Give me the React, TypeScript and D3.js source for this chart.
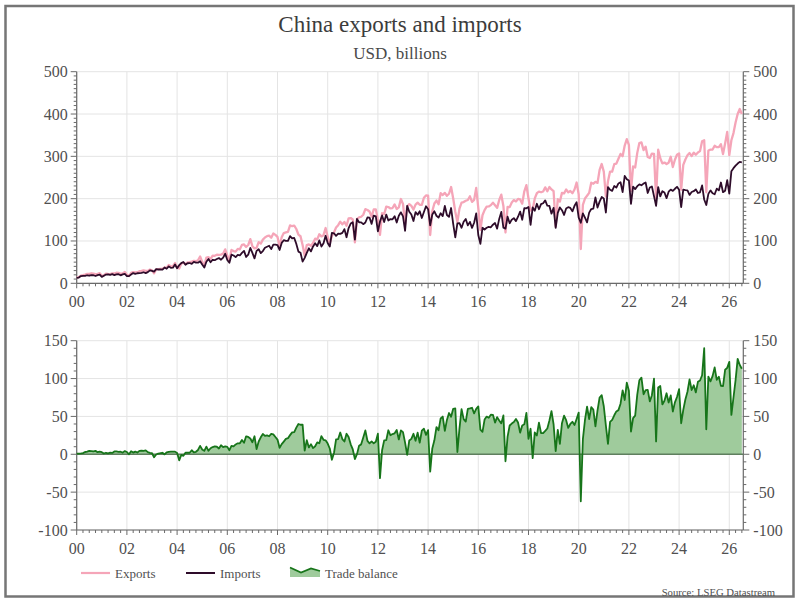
import React from "react";
import * as d3 from "d3";

const START_YEAR = 2000;

// Monthly values, USD billions, one row per year (Jan 2000 – Jul 2026)
const exportsMonthly: number[][] = [
  [13.7, 14.5, 18.3, 19.2, 20.5, 22.4, 22.4, 23.7, 22.8, 21.8, 22.1, 24.0],
  [17.9, 19.0, 22.7, 22.2, 21.9, 23.3, 23.2, 24.9, 24.8, 22.3, 23.2, 26.6],
  [20.2, 17.0, 24.6, 26.3, 25.6, 26.1, 28.6, 29.2, 30.7, 29.3, 29.2, 32.5],
  [30.8, 23.8, 33.1, 33.6, 34.3, 34.4, 37.1, 37.0, 43.3, 40.0, 40.5, 47.8],
  [37.2, 34.9, 46.7, 48.4, 45.8, 49.4, 49.9, 51.3, 53.1, 52.2, 54.5, 63.4],
  [50.8, 41.6, 60.9, 62.0, 57.9, 65.2, 65.0, 67.5, 67.2, 67.7, 70.1, 80.2],
  [64.9, 54.1, 78.8, 76.2, 74.8, 81.4, 80.3, 90.8, 91.9, 85.9, 90.5, 104.4],
  [87.7, 82.6, 83.5, 97.4, 93.7, 103.2, 108.2, 111.4, 112.5, 107.7, 117.6, 114.4],
  [109.6, 87.4, 108.9, 118.7, 120.5, 121.5, 136.7, 134.9, 136.4, 128.3, 114.9, 111.2],
  [90.5, 64.9, 90.3, 91.9, 88.8, 95.4, 105.4, 103.7, 115.9, 110.8, 113.7, 130.7],
  [109.5, 94.5, 112.1, 119.9, 131.8, 137.4, 145.5, 139.3, 144.9, 136.0, 153.3, 154.2],
  [150.7, 96.7, 152.2, 155.7, 157.2, 162.0, 175.1, 173.3, 169.7, 157.5, 174.5, 174.7],
  [149.9, 114.5, 165.7, 163.3, 181.1, 180.2, 176.9, 177.9, 186.4, 175.6, 179.4, 199.2],
  [187.4, 139.4, 182.2, 187.1, 182.8, 174.3, 186.0, 190.6, 185.6, 185.4, 202.2, 207.7],
  [207.1, 114.1, 170.1, 188.5, 195.5, 186.8, 212.9, 208.5, 213.7, 206.9, 211.6, 227.5],
  [200.3, 169.2, 144.6, 176.3, 190.8, 191.9, 195.1, 196.9, 205.6, 192.4, 197.2, 225.2],
  [177.5, 126.0, 160.8, 172.8, 181.0, 181.6, 184.7, 190.6, 184.5, 178.2, 196.8, 209.4],
  [182.8, 120.1, 180.6, 180.0, 191.0, 196.6, 193.5, 199.3, 198.1, 188.2, 217.4, 231.8],
  [200.5, 171.9, 174.1, 200.5, 212.9, 216.7, 215.1, 217.0, 226.7, 217.3, 227.4, 221.7],
  [217.6, 135.2, 198.7, 193.0, 213.8, 212.5, 221.7, 214.8, 218.1, 212.9, 221.7, 238.2],
  [210.0, 81.0, 185.1, 200.3, 206.8, 213.6, 237.6, 235.3, 239.8, 237.2, 268.1, 281.9],
  [263.9, 205.1, 241.1, 263.9, 263.9, 281.4, 282.7, 294.3, 305.7, 300.2, 325.5, 340.5],
  [327.0, 217.7, 276.1, 273.6, 308.2, 331.3, 332.9, 314.9, 322.8, 298.4, 296.1, 306.6],
  [306.0, 200.0, 315.6, 295.4, 283.5, 285.3, 281.8, 284.9, 299.1, 274.8, 291.9, 303.6],
  [307.0, 221.0, 279.7, 292.5, 302.4, 307.8, 300.6, 308.7, 303.7, 309.1, 312.3, 335.6],
  [338.0, 215.0, 313.9, 315.7, 316.1, 325.2, 321.8, 321.8, 328.6, 305.4, 330.3, 357.8],
  [303.0, 338.0, 355.0, 380.0, 400.0, 412.0, 400.0],
];

const importsMonthly: number[][] = [
  [12.9, 13.5, 17.1, 17.7, 17.5, 19.0, 17.9, 19.4, 19.0, 17.3, 19.3, 20.5],
  [15.2, 18.0, 20.7, 20.9, 19.8, 21.5, 19.4, 21.1, 21.5, 18.9, 21.0, 22.4],
  [17.2, 17.0, 20.6, 24.1, 22.1, 23.8, 24.1, 24.5, 26.1, 24.2, 26.4, 30.5],
  [29.4, 27.7, 33.4, 32.6, 32.9, 32.4, 37.3, 34.4, 40.0, 36.5, 36.9, 44.3],
  [35.6, 42.9, 47.6, 50.4, 43.8, 47.4, 47.9, 46.0, 50.5, 48.9, 48.8, 52.3],
  [44.4, 37.1, 50.8, 57.4, 49.9, 55.6, 54.6, 57.5, 59.6, 55.7, 60.6, 69.9],
  [55.1, 48.7, 67.6, 65.7, 61.8, 66.9, 65.8, 72.0, 76.6, 62.2, 67.6, 83.5],
  [71.8, 58.8, 76.6, 80.5, 71.3, 76.3, 83.9, 86.4, 88.7, 80.7, 91.3, 91.6],
  [90.2, 78.8, 95.5, 101.9, 100.2, 100.3, 111.4, 106.0, 107.1, 93.1, 74.9, 72.2],
  [51.3, 60.1, 71.7, 82.8, 75.4, 87.2, 94.8, 87.9, 101.3, 86.8, 94.6, 112.3],
  [95.3, 86.9, 119.3, 118.2, 112.2, 117.3, 116.8, 119.2, 128.0, 108.9, 130.5, 141.1],
  [144.3, 103.0, 152.1, 144.3, 144.1, 139.7, 143.6, 155.5, 155.2, 140.5, 160.0, 158.2],
  [122.7, 146.0, 160.4, 144.9, 162.4, 148.5, 151.8, 151.2, 158.7, 143.6, 159.8, 167.7],
  [158.2, 124.1, 183.1, 168.9, 162.4, 147.2, 168.1, 162.0, 170.3, 154.3, 168.4, 182.1],
  [175.2, 137.1, 162.4, 170.1, 159.6, 155.2, 165.6, 158.7, 182.8, 161.5, 157.1, 177.9],
  [140.3, 108.6, 141.6, 142.1, 131.2, 145.5, 152.0, 136.8, 145.1, 131.0, 143.1, 165.1],
  [114.2, 93.4, 131.2, 127.0, 131.2, 133.4, 132.4, 138.5, 142.6, 129.2, 152.2, 168.6],
  [131.4, 129.3, 157.3, 142.0, 150.4, 154.0, 146.9, 157.3, 169.5, 150.2, 177.8, 177.1],
  [180.2, 138.2, 179.1, 171.6, 188.0, 174.9, 187.0, 189.1, 195.9, 183.3, 182.7, 164.6],
  [178.2, 131.1, 166.4, 179.3, 172.7, 161.5, 176.7, 180.0, 178.1, 170.0, 183.1, 191.5],
  [155.0, 143.0, 165.2, 155.0, 144.0, 167.0, 175.4, 176.4, 202.8, 179.1, 193.1, 203.8],
  [200.5, 167.2, 227.3, 221.0, 218.4, 229.9, 226.1, 236.0, 238.9, 215.7, 253.8, 246.0],
  [243.0, 187.7, 228.4, 222.5, 229.5, 233.6, 231.7, 235.6, 238.1, 213.4, 226.3, 228.6],
  [206.0, 183.0, 227.4, 205.2, 217.7, 214.7, 201.2, 216.5, 221.4, 218.3, 223.4, 228.0],
  [221.0, 180.0, 221.1, 220.1, 219.8, 208.8, 215.7, 217.6, 222.0, 213.4, 214.9, 231.2],
  [198.0, 185.0, 211.3, 219.5, 212.9, 210.4, 223.5, 219.5, 238.1, 215.3, 218.7, 243.7],
  [212.0, 265.0, 272.0, 278.0, 283.0, 287.0, 286.0],
];

const balanceMonthly: number[][] = [
  [0.8, 1.0, 1.2, 1.5, 3.0, 3.4, 4.5, 4.3, 3.8, 4.5, 2.8, 3.5],
  [2.7, 1.0, 2.0, 1.3, 2.1, 1.8, 3.8, 3.8, 3.3, 3.4, 2.2, 4.2],
  [3.0, 0.0, 4.0, 2.2, 3.5, 2.3, 4.5, 4.7, 4.6, 5.1, 2.8, 2.0],
  [1.4, -3.9, -0.3, 1.0, 1.4, 2.0, -0.2, 2.6, 3.3, 3.5, 3.6, 3.5],
  [1.6, -8.0, -0.9, -2.0, 2.0, 2.0, 2.0, 5.3, 2.6, 3.3, 5.7, 11.1],
  [6.4, 4.5, 10.1, 4.6, 8.0, 9.6, 10.4, 10.0, 7.6, 12.0, 9.5, 10.3],
  [9.8, 5.4, 11.2, 10.5, 13.0, 14.5, 14.5, 18.8, 15.3, 23.7, 22.9, 20.9],
  [15.9, 23.8, 6.9, 16.9, 22.4, 26.9, 24.3, 25.0, 23.8, 27.0, 26.3, 22.8],
  [19.4, 8.6, 13.4, 16.8, 20.3, 21.2, 25.3, 28.9, 29.3, 35.2, 40.0, 39.0],
  [39.1, 4.8, 18.6, 9.1, 13.4, 8.2, 10.6, 15.8, 14.6, 24.0, 19.1, 18.4],
  [14.2, 7.6, -7.2, 1.7, 19.6, 20.1, 28.7, 20.1, 16.9, 27.1, 22.8, 13.1],
  [6.4, -6.3, 0.1, 11.4, 13.1, 22.3, 31.5, 17.8, 14.5, 17.0, 14.5, 16.5],
  [27.2, -31.5, 5.3, 18.4, 18.7, 31.7, 25.1, 26.7, 27.7, 32.0, 19.6, 31.5],
  [29.2, 15.3, -0.9, 18.2, 20.4, 27.1, 17.9, 28.6, 15.3, 31.1, 33.8, 25.6],
  [31.9, -23.0, 7.7, 18.4, 35.9, 31.6, 47.3, 49.8, 30.9, 45.4, 54.5, 49.6],
  [60.0, 60.6, 3.0, 34.2, 59.6, 46.4, 43.1, 60.1, 60.5, 61.4, 54.1, 60.1],
  [63.3, 32.6, 29.6, 45.8, 49.8, 48.2, 52.3, 52.1, 41.9, 49.0, 44.6, 40.8],
  [51.4, -9.2, 23.3, 38.0, 40.6, 42.6, 46.6, 42.0, 28.6, 38.0, 39.6, 54.7],
  [20.3, 33.7, -5.0, 28.9, 24.9, 41.8, 28.1, 27.9, 30.8, 34.0, 44.7, 57.1],
  [39.4, 4.1, 32.3, 13.7, 41.1, 51.0, 45.0, 34.8, 40.0, 42.9, 38.6, 46.7],
  [55.0, -62.0, 19.9, 45.3, 62.8, 46.6, 62.2, 58.9, 37.0, 58.1, 75.0, 78.1],
  [63.4, 37.9, 13.8, 42.9, 45.5, 51.5, 56.6, 58.3, 66.8, 84.5, 71.7, 94.5],
  [84.0, 30.0, 47.7, 51.1, 78.7, 97.7, 101.2, 79.3, 84.7, 85.0, 69.8, 78.0],
  [100.0, 17.0, 88.2, 90.2, 65.8, 70.6, 80.6, 68.4, 77.7, 56.5, 68.5, 75.6],
  [86.0, 41.0, 58.6, 72.4, 82.6, 99.0, 84.9, 91.1, 81.7, 95.7, 97.4, 104.4],
  [140.0, 33.0, 102.6, 96.2, 103.2, 114.8, 98.3, 102.3, 90.5, 90.1, 111.6, 114.1],
  [122.0, 52.0, 75.0, 98.0, 126.0, 118.0, 113.0],
];

const xTickYears = d3.range(2000, 2027, 2);
const topYTicks = [0, 100, 200, 300, 400, 500];
const bottomYTicks = [-100, -50, 0, 50, 100, 150];

const legendItems = ["Exports", "Imports", "Trade balance"];
const titleText = "China exports and imports";
const subtitleText = "USD, billions";
const sourceText = "Source: LSEG Datastream";

type Pt = { t: number; v: number };
const toSeries = (rows: number[][]): Pt[] =>
  rows.flatMap((row, yi) => row.map((v, mi) => ({ t: START_YEAR + yi + mi / 12, v })));

const FONT = "'Liberation Serif', 'Times New Roman', serif";
const AXIS_COLOR = "#6a6a6a";
const GRID_COLOR = "#e4e4e4";
const TEXT_COLOR = "#505050";
const EXPORT_COLOR = "#f5a5b8";
const IMPORT_COLOR = "#2e0c2a";
const BAL_LINE = "#17751a";
const BAL_FILL = "#9fcb9c";

const L = 76.7;
const R = 743.3;

function Panel({
  y,
  ticks,
  minorStep,
}: {
  y: d3.ScaleLinear<number, number>;
  ticks: number[];
  minorStep: number;
}) {
  const x = d3.scaleLinear().domain([2000, 2026.558]).range([L, R]);
  const [d0, d1] = y.domain();
  const bottom = y(d0);
  const top = y(d1);
  const minorY = d3.range(d0, d1 + 0.001, minorStep).filter((v) => !ticks.includes(v));
  const minorX = d3.range(2000, 2026.56, 0.25).filter((t) => Math.abs(t - Math.round(t / 2) * 2) > 0.01);
  return (
    <g>
      {xTickYears.map((t) => (
        <line key={"gx" + t} x1={x(t)} x2={x(t)} y1={top} y2={bottom} stroke={GRID_COLOR} strokeWidth={1} />
      ))}
      {ticks.map((v) => (
        <line key={"gy" + v} x1={L} x2={R} y1={y(v)} y2={y(v)} stroke={GRID_COLOR} strokeWidth={1} />
      ))}
      <line x1={L} x2={L} y1={top} y2={bottom} stroke={AXIS_COLOR} strokeWidth={1.2} />
      <line x1={R} x2={R} y1={top} y2={bottom} stroke={AXIS_COLOR} strokeWidth={1.2} />
      <line x1={L} x2={R} y1={bottom} y2={bottom} stroke={AXIS_COLOR} strokeWidth={1.2} />
      {ticks.map((v) => (
        <g key={"ty" + v}>
          <line x1={L - 6} x2={L} y1={y(v)} y2={y(v)} stroke={AXIS_COLOR} strokeWidth={1} />
          <line x1={R} x2={R + 6} y1={y(v)} y2={y(v)} stroke={AXIS_COLOR} strokeWidth={1} />
          <text x={L - 9} y={y(v)} textAnchor="end" dominantBaseline="central" fontSize={16} fill={TEXT_COLOR} fontFamily={FONT}>
            {v}
          </text>
          <text x={R + 10} y={y(v)} textAnchor="start" dominantBaseline="central" fontSize={16} fill={TEXT_COLOR} fontFamily={FONT}>
            {v}
          </text>
        </g>
      ))}
      {minorY.map((v) => (
        <g key={"my" + v}>
          <line x1={L - 3} x2={L} y1={y(v)} y2={y(v)} stroke={AXIS_COLOR} strokeWidth={1} />
          <line x1={R} x2={R + 3} y1={y(v)} y2={y(v)} stroke={AXIS_COLOR} strokeWidth={1} />
        </g>
      ))}
      {minorX.map((t) => (
        <line key={"mx" + t} x1={x(t)} x2={x(t)} y1={bottom} y2={bottom + 3} stroke={AXIS_COLOR} strokeWidth={1} />
      ))}
      {xTickYears.map((t) => (
        <g key={"tx" + t}>
          <line x1={x(t)} x2={x(t)} y1={bottom} y2={bottom + 5} stroke={AXIS_COLOR} strokeWidth={1} />
          <text x={x(t)} y={bottom + 18} textAnchor="middle" dominantBaseline="central" fontSize={16} fill={TEXT_COLOR} fontFamily={FONT}>
            {String(t % 100).padStart(2, "0")}
          </text>
        </g>
      ))}
    </g>
  );
}

export default function App() {
  const x = d3.scaleLinear().domain([2000, 2026.558]).range([L, R]);
  const yTop = d3.scaleLinear().domain([0, 500]).range([283.3, 71.7]);
  const yBot = d3.scaleLinear().domain([-100, 150]).range([530, 340.7]);

  const ex = toSeries(exportsMonthly);
  const im = toSeries(importsMonthly);
  const bal = toSeries(balanceMonthly);

  const lineTop = d3.line<Pt>().x((d) => x(d.t)).y((d) => yTop(d.v));
  const lineBot = d3.line<Pt>().x((d) => x(d.t)).y((d) => yBot(d.v));
  const areaBot = d3
    .area<Pt>()
    .x((d) => x(d.t))
    .y0(yBot(0))
    .y1((d) => yBot(d.v));

  const legY = 573;

  return (
    <svg
      width={800}
      height={607}
      viewBox="0 0 800 607"
      style={{ position: "absolute", left: 0, top: 0, display: "block", background: "#ffffff" }}
    >
      <rect x={0} y={0} width={800} height={607} fill="#ffffff" />
      <rect x={5.5} y={6} width={788} height={590.5} fill="none" stroke="#767676" strokeWidth={2.5} />

      <text x={400} y={32} textAnchor="middle" fontSize={23} fill="#3c3c3c" fontFamily={FONT}>
        {titleText}
      </text>
      <text x={400} y={59} textAnchor="middle" fontSize={17} fill="#4a4a4a" fontFamily={FONT}>
        {subtitleText}
      </text>

      <Panel y={yTop} ticks={topYTicks} minorStep={10} />
      <path d={lineTop(ex) || ""} fill="none" stroke={EXPORT_COLOR} strokeWidth={2.3} strokeLinejoin="round" />
      <path d={lineTop(im) || ""} fill="none" stroke={IMPORT_COLOR} strokeWidth={1.8} strokeLinejoin="round" />

      <Panel y={yBot} ticks={bottomYTicks} minorStep={10} />
      <path d={areaBot(bal) || ""} fill={BAL_FILL} stroke="none" />
      <line x1={L} x2={R} y1={yBot(0)} y2={yBot(0)} stroke="#5f7f5e" strokeWidth={1.5} />
      <path d={lineBot(bal) || ""} fill="none" stroke={BAL_LINE} strokeWidth={1.8} strokeLinejoin="round" />

      <line x1={81} x2={110} y1={legY} y2={legY} stroke={EXPORT_COLOR} strokeWidth={2.2} />
      <text x={115} y={legY} dominantBaseline="central" fontSize={13} fill={TEXT_COLOR} fontFamily={FONT}>
        {legendItems[0]}
      </text>
      <line x1={186} x2={215} y1={legY} y2={legY} stroke={IMPORT_COLOR} strokeWidth={2} />
      <text x={220} y={legY} dominantBaseline="central" fontSize={13} fill={TEXT_COLOR} fontFamily={FONT}>
        {legendItems[1]}
      </text>
      <path d="M290,567.5 L301,572.5 L311,568.5 L320,571 L320,577 L290,577 Z" fill={BAL_FILL} />
      <path d="M290,567.5 L301,572.5 L311,568.5 L320,571" fill="none" stroke={BAL_LINE} strokeWidth={1.8} />
      <text x={325} y={legY} dominantBaseline="central" fontSize={13} fill={TEXT_COLOR} fontFamily={FONT}>
        {legendItems[2]}
      </text>

      <text x={775} y={592} textAnchor="end" dominantBaseline="central" fontSize={10.7} fill={TEXT_COLOR} fontFamily={FONT}>
        {sourceText}
      </text>
    </svg>
  );
}
